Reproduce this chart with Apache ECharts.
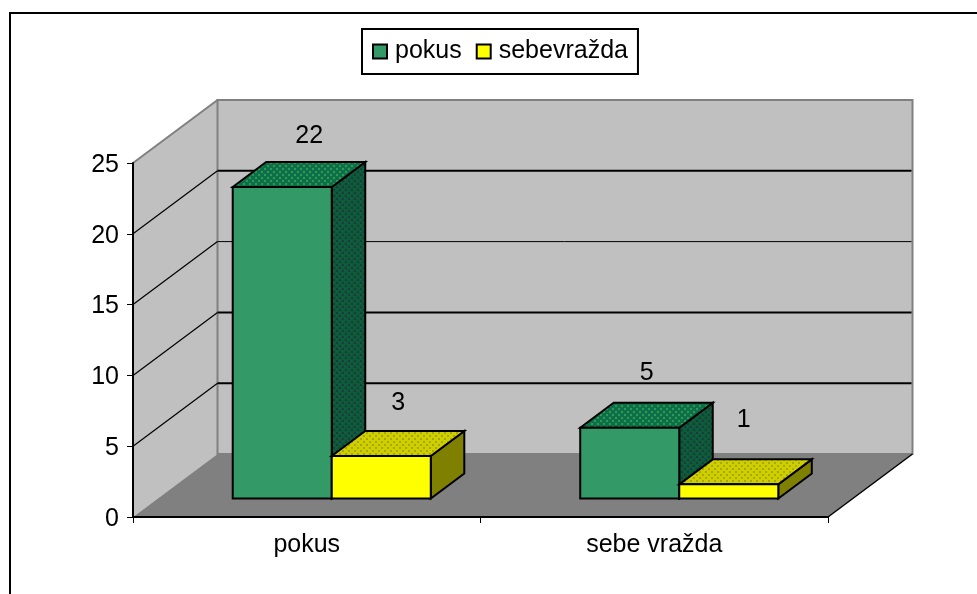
<!DOCTYPE html>
<html><head><meta charset="utf-8">
<style>html,body{margin:0;padding:0;background:#fff}#c{width:977px;height:594px}</style>
<script src="https://cdn.jsdelivr.net/npm/echarts@6/dist/echarts.min.js"></script>
</head><body><div id="c"></div>
<script>
const categories = ['pokus', 'sebe vražda'];
const seriesNames = ['pokus', 'sebevražda'];
const pokusValues = [22, 5];
const sebevrazdaValues = [3, 1];
const yTicks = [5, 10, 15, 20, 25];
const gridWidths = {5: 2, 10: 2, 15: 1, 20: 2};

const FONT = '"Liberation Sans", Arial, sans-serif';
const FS = 25;
const WALL_DX = 84.5, WALL_DY = -63;
const BAR_IN_DX = 25, BAR_IN_DY = -18.5;
const BAR_DX = 33.5, BAR_DY = -25;
const BAR_FRAC = 0.285;
// label offset from the centre of each bar's front top edge: [series][category]
const LABEL_SHIFT = [[[27, -51], [17, -55]], [[17, -53], [15, -64]]];

function blocks(size, base, cells) {
  const c = document.createElement('canvas');
  c.width = c.height = size;
  const g = c.getContext('2d');
  g.fillStyle = base; g.fillRect(0, 0, size, size);
  cells.forEach(d => { g.fillStyle = d[3]; g.fillRect(d[0], d[1], d[2], d[2]); });
  return {image: c, repeat: 'repeat'};
}
const greenTop = blocks(6, '#0f7040', [
  [0, 0, 2, '#2c9a50'], [3, 3, 2, '#2c9a50'], [3, 0, 2, '#0a6a60'], [0, 3, 2, '#0a6a60']]);
const greenSide = blocks(6, '#0c5a38', [
  [0, 0, 2, '#1c3a40'], [3, 3, 2, '#1c3a40'], [3, 0, 1, '#0e6a40'], [0, 3, 1, '#0e6a40']]);
const yellowTop = blocks(6, '#cfcf00', [
  [0, 0, 2, '#a8a800'], [3, 3, 2, '#a8a800']]);
const palettes = [
  {front: '#339966', top: greenTop, side: greenSide},
  {front: '#ffff00', top: yellowTop, side: '#808000'}
];

function barRenderer(si) {
  return function (params, api) {
    const cat = api.value(0), val = api.value(1);
    const base = api.coord([cat, 0]), tip = api.coord([cat, val]);
    const w = api.size([1, 0])[0] * BAR_FRAC;
    const x0 = base[0] + BAR_IN_DX + (si - 1) * w, x1 = x0 + w;
    const yb = base[1] + BAR_IN_DY, yt = tip[1] + BAR_IN_DY;
    const p = palettes[si];
    const line = {stroke: '#000', lineWidth: 2, lineJoin: 'miter'};
    const shift = LABEL_SHIFT[si][cat];
    return {type: 'group', children: [
      {type: 'polygon', shape: {points: [[x1, yt], [x1 + BAR_DX, yt + BAR_DY], [x1 + BAR_DX, yb + BAR_DY], [x1, yb]]},
        style: Object.assign({fill: p.side}, line)},
      {type: 'polygon', shape: {points: [[x0, yt], [x0 + BAR_DX, yt + BAR_DY], [x1 + BAR_DX, yt + BAR_DY], [x1, yt]]},
        style: Object.assign({fill: p.top}, line)},
      {type: 'rect', shape: {x: x0, y: yt, width: w, height: yb - yt},
        style: Object.assign({fill: p.front}, line)},
      {type: 'text', x: (x0 + x1) / 2 + shift[0], y: yt + shift[1],
        style: {text: String(val), font: FS + 'px ' + FONT, fill: '#000', align: 'center', verticalAlign: 'middle'}}
    ]};
  };
}

function wallsRenderer(params, api) {
  const o = api.coord([0, 0]), t = api.coord([0, 25]);
  const sz = api.size([1, 0])[0];
  const xl = o[0] - sz / 2, xr = xl + sz * categories.length;
  const yo = o[1], yt = t[1];
  const D = [WALL_DX, WALL_DY];
  return {type: 'group', children: [
    {type: 'polygon', shape: {points: [[xl, yo], [xl + D[0], yo + D[1]], [xl + D[0], yt + D[1]], [xl, yt]]},
      style: {fill: '#c0c0c0'}},
    {type: 'rect', shape: {x: xl + D[0], y: yt + D[1], width: xr - xl, height: yo - yt},
      style: {fill: '#c0c0c0', stroke: '#808080', lineWidth: 2}},
    {type: 'polygon', shape: {points: [[xl, yo], [xr, yo], [xr + D[0], yo + D[1]], [xl + D[0], yo + D[1]]]},
      style: {fill: '#808080'}},
    {type: 'line', shape: {x1: xl, y1: yt, x2: xl + D[0], y2: yt + D[1]}, style: {stroke: '#808080', lineWidth: 2}},
    {type: 'line', shape: {x1: xr, y1: yo, x2: xr + D[0], y2: yo + D[1]}, style: {stroke: '#000', lineWidth: 1.5}}
  ]};
}

function gridRenderer(params, api) {
  const v = api.value(0);
  const p = api.coord([0, v]);
  const sz = api.size([1, 0])[0];
  const xl = p[0] - sz / 2, xr = xl + sz * categories.length;
  const kids = [];
  if (v < 25) {
    kids.push({type: 'line', shape: {x1: xl, y1: p[1], x2: xl + WALL_DX, y2: p[1] + WALL_DY}, style: {stroke: '#000', lineWidth: 1.2}});
    kids.push({type: 'line', shape: {x1: xl + WALL_DX, y1: p[1] + WALL_DY, x2: xr + WALL_DX - 1, y2: p[1] + WALL_DY}, style: {stroke: '#000', lineWidth: gridWidths[v]}});
  }
  return {type: 'group', children: kids};
}

const chart = echarts.init(document.getElementById('c'), null, {renderer: 'canvas'});
chart.setOption({
  animation: false,
  backgroundColor: '#fff',
  grid: {left: 133, right: 149, top: 163, bottom: 77, containLabel: false},
  legend: {
    show: true, left: 362, top: 29, padding: [10, 10, 10, 10], itemGap: 14,
    itemWidth: 14, itemHeight: 14, selectedMode: false, icon: 'rect',
    borderColor: '#000', borderWidth: 2, backgroundColor: '#fff',
    textStyle: {fontFamily: FONT, fontSize: FS, color: '#000', padding: [2, 0, 0, 3]},
    itemStyle: {borderColor: '#000', borderWidth: 2},
    data: seriesNames
  },
  xAxis: {
    type: 'category', data: categories, z: 5,
    axisLine: {lineStyle: {color: '#000', width: 2}},
    axisTick: {show: true, length: 6, lineStyle: {color: '#000', width: 1}},
    axisLabel: {fontFamily: FONT, fontSize: FS, color: '#000', margin: 16},
    splitLine: {show: false}
  },
  yAxis: {
    type: 'value', min: 0, max: 25, interval: 5, z: 5,
    axisLine: {show: true, lineStyle: {color: '#000', width: 2}},
    axisTick: {show: true, length: 6, lineStyle: {color: '#000', width: 1}},
    axisLabel: {
      margin: 14, formatter: '{n|{value}}',
      rich: {n: {fontFamily: FONT, fontSize: FS, color: '#000', padding: [4, 0, 0, 0]}}
    },
    splitLine: {show: false}
  },
  series: [
    {type: 'custom', silent: true, z: 1, data: [[0]], renderItem: wallsRenderer},
    {type: 'custom', silent: true, z: 2, data: yTicks.map(v => [v]), renderItem: gridRenderer},
    {type: 'custom', name: seriesNames[0], z: 3, itemStyle: {color: '#339966'},
      data: pokusValues.map((v, i) => [i, v]), encode: {x: 0, y: 1}, renderItem: barRenderer(0)},
    {type: 'custom', name: seriesNames[1], z: 3, itemStyle: {color: '#ffff00'},
      data: sebevrazdaValues.map((v, i) => [i, v]), encode: {x: 0, y: 1}, renderItem: barRenderer(1)}
  ],
  graphic: [{
    type: 'polyline', silent: true, z: 20,
    shape: {points: [[10, 594], [10, 13], [977, 13]]},
    style: {stroke: '#000', lineWidth: 2, fill: 'none'}
  }]
});
</script></body></html>
